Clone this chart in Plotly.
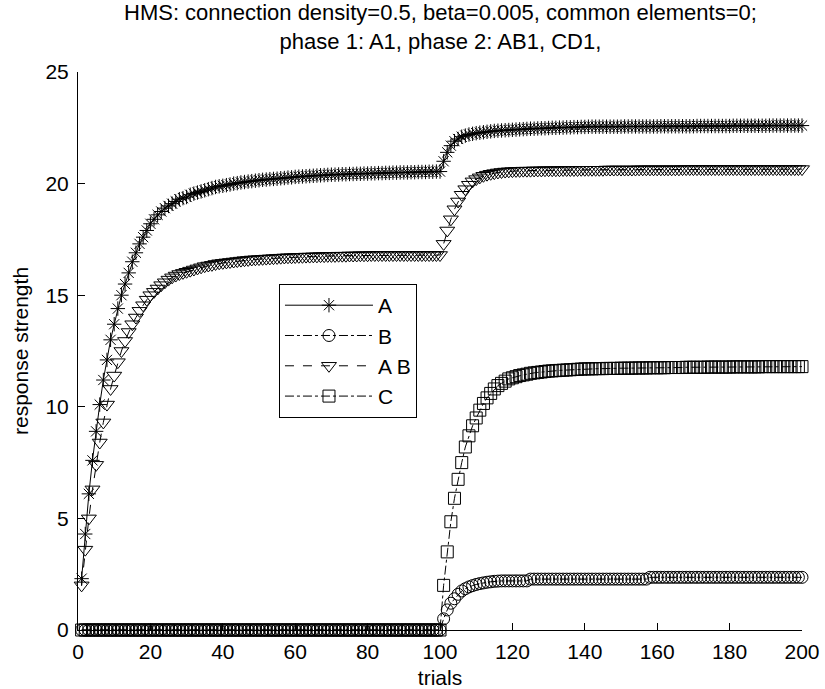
import plotly.graph_objects as go

trials = list(range(1, 201))

resp_A = [
    2.3, 4.3, 6.1, 7.6, 8.9, 10.1, 11.2, 12.1, 13.0, 13.7,
    14.4, 15.0, 15.5, 16.0, 16.5, 16.9, 17.3, 17.6, 17.9, 18.2,
    18.4, 18.6, 18.75, 18.9, 19.0, 19.1, 19.2, 19.3, 19.35, 19.4,
    19.5, 19.55, 19.6, 19.65, 19.7, 19.75, 19.8, 19.85, 19.88, 19.9,
    19.93, 19.96, 20.0, 20.02, 20.05, 20.07, 20.09, 20.11, 20.13, 20.15,
    20.17, 20.18, 20.2, 20.21, 20.22, 20.24, 20.25, 20.27, 20.28, 20.3,
    20.31, 20.32, 20.33, 20.34, 20.35, 20.36, 20.37, 20.38, 20.39, 20.4,
    20.4, 20.41, 20.42, 20.42, 20.43, 20.43, 20.44, 20.44, 20.45, 20.45,
    20.46, 20.46, 20.47, 20.47, 20.48, 20.48, 20.49, 20.49, 20.5, 20.5,
    20.5, 20.51, 20.51, 20.52, 20.52, 20.52, 20.53, 20.53, 20.54, 20.54,
    21.0, 21.4, 21.7, 21.9, 22.0, 22.1, 22.15, 22.2, 22.23, 22.26,
    22.28, 22.3, 22.32, 22.34, 22.36, 22.37, 22.38, 22.39, 22.4, 22.41,
    22.42, 22.43, 22.44, 22.45, 22.46, 22.46, 22.47, 22.48, 22.48, 22.49,
    22.5, 22.5, 22.51, 22.51, 22.52, 22.52, 22.53, 22.53, 22.54, 22.54,
    22.55, 22.55, 22.55, 22.55, 22.55, 22.55, 22.55, 22.55, 22.55, 22.55,
    22.56, 22.56, 22.56, 22.56, 22.56, 22.56, 22.56, 22.56, 22.56, 22.56,
    22.57, 22.57, 22.57, 22.57, 22.57, 22.57, 22.57, 22.57, 22.57, 22.57,
    22.58, 22.58, 22.58, 22.58, 22.58, 22.58, 22.58, 22.58, 22.58, 22.58,
    22.59, 22.59, 22.59, 22.59, 22.59, 22.59, 22.59, 22.59, 22.59, 22.59,
    22.6, 22.6, 22.6, 22.6, 22.6, 22.6, 22.6, 22.6, 22.6, 22.6,
]

resp_B = [
    0, 0, 0, 0, 0, 0, 0, 0, 0, 0,
    0, 0, 0, 0, 0, 0, 0, 0, 0, 0,
    0, 0, 0, 0, 0, 0, 0, 0, 0, 0,
    0, 0, 0, 0, 0, 0, 0, 0, 0, 0,
    0, 0, 0, 0, 0, 0, 0, 0, 0, 0,
    0, 0, 0, 0, 0, 0, 0, 0, 0, 0,
    0, 0, 0, 0, 0, 0, 0, 0, 0, 0,
    0, 0, 0, 0, 0, 0, 0, 0, 0, 0,
    0, 0, 0, 0, 0, 0, 0, 0, 0, 0,
    0, 0, 0, 0, 0, 0, 0, 0, 0, 0,
    0.5, 0.9, 1.2, 1.4, 1.6, 1.75, 1.85, 1.93, 1.99, 2.04,
    2.08, 2.11, 2.14, 2.16, 2.18, 2.19, 2.2, 2.2, 2.2, 2.2,
    2.2, 2.2, 2.2, 2.2, 2.28, 2.28, 2.28, 2.28, 2.28, 2.28,
    2.28, 2.28, 2.28, 2.28, 2.28, 2.28, 2.28, 2.28, 2.28, 2.28,
    2.28, 2.28, 2.28, 2.28, 2.28, 2.28, 2.28, 2.28, 2.28, 2.28,
    2.28, 2.28, 2.28, 2.28, 2.28, 2.28, 2.28, 2.36, 2.36, 2.36,
    2.36, 2.36, 2.36, 2.36, 2.36, 2.36, 2.36, 2.36, 2.36, 2.36,
    2.36, 2.36, 2.36, 2.36, 2.36, 2.36, 2.36, 2.36, 2.36, 2.36,
    2.36, 2.36, 2.36, 2.36, 2.36, 2.36, 2.36, 2.36, 2.36, 2.36,
    2.36, 2.36, 2.36, 2.36, 2.36, 2.36, 2.36, 2.36, 2.36, 2.36,
]

resp_AB = [
    2.0, 3.6, 5.0, 6.3, 7.4, 8.4, 9.3, 10.1, 10.8, 11.4,
    12.0, 12.5, 12.95, 13.35, 13.7, 14.0, 14.3, 14.55, 14.8, 15.0,
    15.15, 15.3, 15.45, 15.58, 15.7, 15.8, 15.88, 15.95, 16.0, 16.05,
    16.1, 16.15, 16.2, 16.25, 16.3, 16.33, 16.36, 16.4, 16.43, 16.45,
    16.47, 16.49, 16.51, 16.53, 16.55, 16.57, 16.58, 16.6, 16.61, 16.62,
    16.63, 16.64, 16.65, 16.66, 16.67, 16.68, 16.69, 16.7, 16.7, 16.71,
    16.72, 16.72, 16.73, 16.73, 16.74, 16.74, 16.75, 16.75, 16.76, 16.76,
    16.76, 16.77, 16.77, 16.77, 16.78, 16.78, 16.78, 16.79, 16.79, 16.79,
    16.8, 16.8, 16.8, 16.8, 16.8, 16.8, 16.8, 16.8, 16.8, 16.8,
    16.8, 16.8, 16.8, 16.8, 16.8, 16.8, 16.8, 16.8, 16.8, 16.8,
    17.3, 17.9, 18.4, 18.85, 19.2, 19.5, 19.75, 19.95, 20.1, 20.2,
    20.28, 20.35, 20.4, 20.44, 20.47, 20.5, 20.52, 20.54, 20.55, 20.56,
    20.57, 20.57, 20.58, 20.58, 20.58, 20.59, 20.59, 20.59, 20.6, 20.6,
    20.6, 20.6, 20.6, 20.61, 20.61, 20.61, 20.61, 20.61, 20.62, 20.62,
    20.62, 20.62, 20.62, 20.62, 20.62, 20.63, 20.63, 20.63, 20.63, 20.63,
    20.63, 20.63, 20.63, 20.63, 20.64, 20.64, 20.64, 20.64, 20.64, 20.64,
    20.64, 20.64, 20.64, 20.64, 20.64, 20.64, 20.65, 20.65, 20.65, 20.65,
    20.65, 20.65, 20.65, 20.65, 20.65, 20.65, 20.65, 20.65, 20.65, 20.65,
    20.65, 20.65, 20.65, 20.65, 20.65, 20.65, 20.65, 20.65, 20.65, 20.65,
    20.65, 20.65, 20.65, 20.65, 20.65, 20.65, 20.65, 20.65, 20.65, 20.65,
]

resp_C = [
    0, 0, 0, 0, 0, 0, 0, 0, 0, 0,
    0, 0, 0, 0, 0, 0, 0, 0, 0, 0,
    0, 0, 0, 0, 0, 0, 0, 0, 0, 0,
    0, 0, 0, 0, 0, 0, 0, 0, 0, 0,
    0, 0, 0, 0, 0, 0, 0, 0, 0, 0,
    0, 0, 0, 0, 0, 0, 0, 0, 0, 0,
    0, 0, 0, 0, 0, 0, 0, 0, 0, 0,
    0, 0, 0, 0, 0, 0, 0, 0, 0, 0,
    0, 0, 0, 0, 0, 0, 0, 0, 0, 0,
    0, 0, 0, 0, 0, 0, 0, 0, 0, 0,
    2.0, 3.5, 4.85, 5.9, 6.75, 7.5, 8.2, 8.7, 9.15, 9.5,
    9.85, 10.15, 10.4, 10.6, 10.8, 10.95, 11.05, 11.15, 11.25, 11.3,
    11.35, 11.4, 11.43, 11.46, 11.5, 11.52, 11.54, 11.56, 11.58, 11.6,
    11.61, 11.62, 11.63, 11.64, 11.65, 11.66, 11.67, 11.68, 11.69, 11.7,
    11.7, 11.7, 11.71, 11.71, 11.71, 11.72, 11.72, 11.72, 11.72, 11.73,
    11.73, 11.73, 11.73, 11.74, 11.74, 11.74, 11.74, 11.75, 11.75, 11.75,
    11.75, 11.75, 11.76, 11.76, 11.76, 11.76, 11.76, 11.77, 11.77, 11.77,
    11.77, 11.77, 11.77, 11.78, 11.78, 11.78, 11.78, 11.78, 11.78, 11.78,
    11.79, 11.79, 11.79, 11.79, 11.79, 11.79, 11.79, 11.79, 11.8, 11.8,
    11.8, 11.8, 11.8, 11.8, 11.8, 11.8, 11.8, 11.8, 11.8, 11.8,
]

series_names = ["A", "B", "A B", "C"]
x_ticks = [0, 20, 40, 60, 80, 100, 120, 140, 160, 180, 200]
y_ticks = [0, 5, 10, 15, 20, 25]

title_text = ("HMS: connection density=0.5, beta=0.005, common elements=0;"
              "<br>phase 1: A1, phase 2: AB1, CD1,")

FONT = "Liberation Sans, Arial, sans-serif"

styles = [
    dict(symbol="asterisk-open", size=12, dash="solid"),
    dict(symbol="circle-open", size=12, dash="dashdot"),
    dict(symbol="triangle-down-open", size=13, dash="dash"),
    dict(symbol="square-open", size=12, dash="dashdot"),
]

fig = go.Figure()
for name, vals, st in zip(series_names, [resp_A, resp_B, resp_AB, resp_C], styles):
    fig.add_trace(go.Scatter(
        x=trials, y=vals, name=name, mode="lines+markers",
        line=dict(color="black", width=1, dash=st["dash"]),
        marker=dict(symbol=st["symbol"], size=st["size"], color="black",
                    line=dict(color="black", width=1)),
        cliponaxis=False,
    ))

fig.add_annotation(
    text=title_text, xref="paper", yref="paper", x=0.5, y=1.028,
    xanchor="center", yanchor="bottom", showarrow=False,
    font=dict(family=FONT, size=22, color="black"),
)

fig.update_layout(
    width=825, height=689,
    paper_bgcolor="white", plot_bgcolor="white",
    margin=dict(l=78, r=23, t=72, b=59, autoexpand=False),
    font=dict(family=FONT, size=21, color="black"),
    showlegend=True,
    legend=dict(x=0.2776, y=0.62, xanchor="left", yanchor="top",
                bgcolor="white", bordercolor="black", borderwidth=1,
                font=dict(family=FONT, size=21, color="black"),
                itemwidth=88, tracegroupgap=0),
    xaxis=dict(range=[0, 200], tickvals=x_ticks, ticks="inside", ticklen=7,
               tickcolor="black", showline=True, linecolor="black", linewidth=1,
               mirror=False, showgrid=False, zeroline=False, automargin=False,
               tickfont=dict(size=21), ticklabelstandoff=3,
               title=dict(text="trials", standoff=8, font=dict(size=21))),
    yaxis=dict(range=[0, 25], tickvals=y_ticks, ticks="inside", ticklen=7,
               tickcolor="black", showline=True, linecolor="black", linewidth=1,
               mirror=False, showgrid=False, zeroline=False, automargin=False,
               tickfont=dict(size=21), ticklabelstandoff=4,
               title=dict(text="response strength", standoff=11, font=dict(size=21))),
)

fig.write_html("out.html", config={"displayModeBar": False},
               post_script="document.body.style.margin='0px';document.body.style.padding='0px';")
